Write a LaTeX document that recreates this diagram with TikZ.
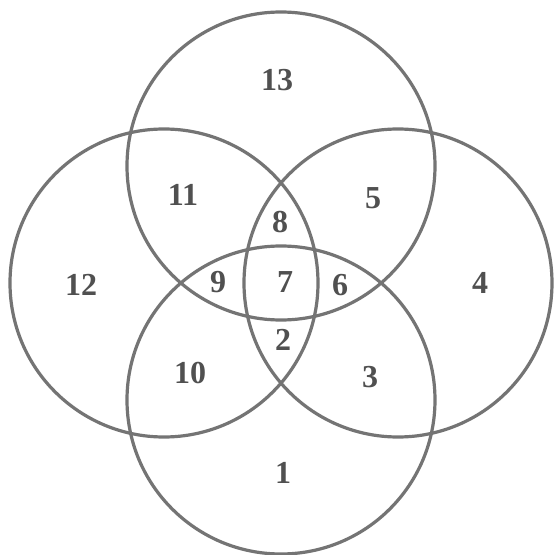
\documentclass[tikz,border=0pt]{standalone}
\usepackage{fontspec}
\setmainfont{Liberation Serif}
\definecolor{ringcol}{HTML}{747474}
\definecolor{labcol}{HTML}{505050}
\begin{document}
\begin{tikzpicture}[x=1pt,y=1pt,
  ring/.style={draw=ringcol,line width=3.2pt},
  lab/.style={text=labcol,font=\fontsize{32}{32}\selectfont\bfseries,inner sep=0pt}]
\useasboundingbox (0,0) rectangle (555,555);
\fill[white] (0,0) rectangle (555,555);
\coordinate (C) at (281,272);
\def\rr{154}
\def\dd{117}
\draw[ring] ([yshift=\dd]C) circle (\rr);
\draw[ring] ([yshift=-\dd]C) circle (\rr);
\draw[ring] ([xshift=-\dd]C) circle (\rr);
\draw[ring] ([xshift=\dd]C) circle (\rr);
\node[lab] (n13) at (277,475) {13};
\node[lab] (n11) at (183,360) {11};
\node[lab] (n5)  at (373,357) {5};
\node[lab] (n12) at (81,270) {12};
\node[lab] (n4)  at (480,272) {4};
\node[lab] (n10) at (190,182) {10};
\node[lab] (n3)  at (370,178) {3};
\node[lab] (n1)  at (283,82) {1};
\node[lab] (n8)  at (280,333) {8};
\node[lab] (n9)  at (218,273) {9};
\node[lab] (n7)  at (285,273) {7};
\node[lab] (n6)  at (340,270) {6};
\node[lab] (n2)  at (283,215) {2};
\end{tikzpicture}
\end{document}
